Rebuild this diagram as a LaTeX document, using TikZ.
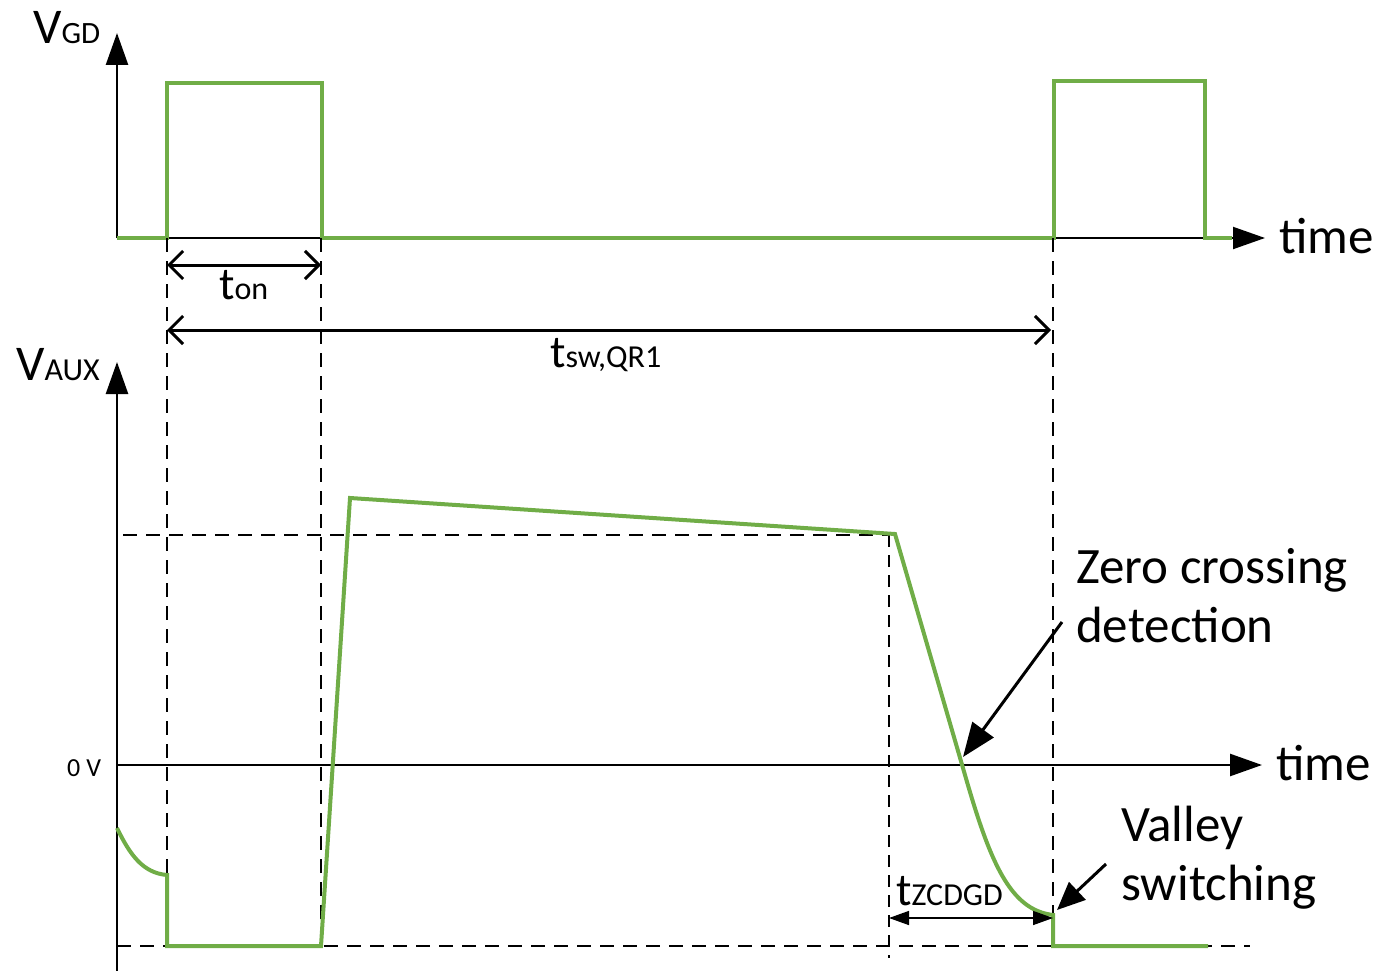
\documentclass[tikz,border=0pt]{standalone}
\usepackage{fontspec}
\setmainfont{Carlito}
\usetikzlibrary{arrows.meta,positioning}
\definecolor{wavegreen}{RGB}{112,173,71}
\newcommand{\fsz}[1]{\fontsize{#1}{#1}\selectfont}

\begin{document}
\begin{tikzpicture}[
  x=1pt,y=-1pt,
  axis/.style={line width=2.5pt,-{Triangle[length=32pt,width=22pt]}},
  wave/.style={line width=4pt,wavegreen},
  guide/.style={line width=2pt,dash pattern=on 14pt off 9pt},
  span/.style={line width=3pt,
               {Straight Barb[length=14pt,width=28pt]}-{Straight Barb[length=14pt,width=28pt]}},
  pointer/.style={line width=3pt,-{Triangle[length=34pt,width=26pt]}},
  lbl/.style={inner sep=0pt,anchor=base west,font=\fontsize{51}{59}\selectfont},
  sub/.style={inner sep=0pt,anchor=base west,font=\fsz{46}}
]
\useasboundingbox (0,0) rectangle (1384,971);

% key points
\coordinate (o1) at (117,238);
\coordinate (y1) at (117,33);
\coordinate (x1) at (1265,238);
\coordinate (o2) at (117,971);
\coordinate (y2) at (117,362);
\coordinate (z0) at (117,765);
\coordinate (x2) at (1262,765);
\coordinate (on) at (167,238);
\coordinate (off) at (321,238);
\coordinate (next) at (1053,238);
\coordinate (zcd) at (889,535);
\coordinate (vtop) at (123,535);
\coordinate (vbot) at (117,946);
\coordinate (vbotend) at (1250,946);
\coordinate (valley) at (1053,915);

% V_GD plot
\draw[axis] (o1) -- (y1);
\draw[axis,line width=2pt] (o1) -- (x1);
\draw[wave] (o1) -- (167,238) -- (167,83) -- (322,83) -- (322,238)
  -- (1054,238) -- (1054,81) -- (1205,81) -- (1205,238) -- (1232,238);
\node[lbl,font=\fsz{50}] (vgd) at (33,44) {V{\fsz{31}GD}};
\node[lbl] (time1) at (1279,253) {time};

% timing guides
\draw[guide] (on) -- (on |- vbot);
\draw[guide] (off) -- (off |- vbot);
\draw[guide] (next) -- (valley);
\draw[guide,line width=1.5pt,dash pattern=on 12pt off 8pt] (zcd) -- (889,958);
\draw[guide] (vtop) -- (zcd);
\draw[guide] (vbot) -- (vbotend);

\draw[span] (167,265) coordinate (ona) -- (321,265) coordinate (onb);
\node[sub] (ton) at (219,299) {t{\fsz{32}on}};
\draw[span] (167,330) coordinate (swa) -- (1051,330) coordinate (swb);
\node[sub] (tsw) at (550,367) {t{\fsz{32}sw,QR1}};

% V_AUX plot
\draw[axis] (o2) -- (y2);
\draw[axis] (z0) -- (x2);
\draw[wave] (117,828) .. controls (130,855) and (143,873) .. (167,875)
  -- (167,946) -- (321,946) -- (350,498) -- (895,534) -- (965,775)
  .. controls (990,862) and (1010,910) .. (valley) -- (1053,946) -- (1208,946);
\node[lbl,font=\fsz{50}] (vaux) at (16,380) {V{\fsz{32}AUX}};
\node[lbl] (time2) at (1276,780) {time};
\node[lbl,font=\fsz{26}] (zerov) at (67,776) {0 V};

\draw[line width=1.5pt,{Triangle[length=20pt,width=14pt]}-{Triangle[length=20pt,width=14pt]}]
  (889,918) coordinate (zcda) -- (1053,918) coordinate (zcdb);
\node[sub] (tzcd) at (896,905) {t{\fsz{32}ZCDGD}};

% annotations
\node[lbl,align=left] (zero) at (1076,642) {Zero crossing\\detection};
\coordinate (zerotail) at (1062,622);
\coordinate (zerotip) at (963,757);
\draw[pointer] (zerotail) -- (zerotip);
\node[lbl,align=left] (valleylbl) at (1121,900) {Valley\\switching};
\coordinate (valleytail) at (1106,864);
\coordinate (valleytip) at (1057,910);
\draw[pointer,-{Triangle[length=28pt,width=24pt]}] (valleytail) -- (valleytip);
\end{tikzpicture}
\end{document}
